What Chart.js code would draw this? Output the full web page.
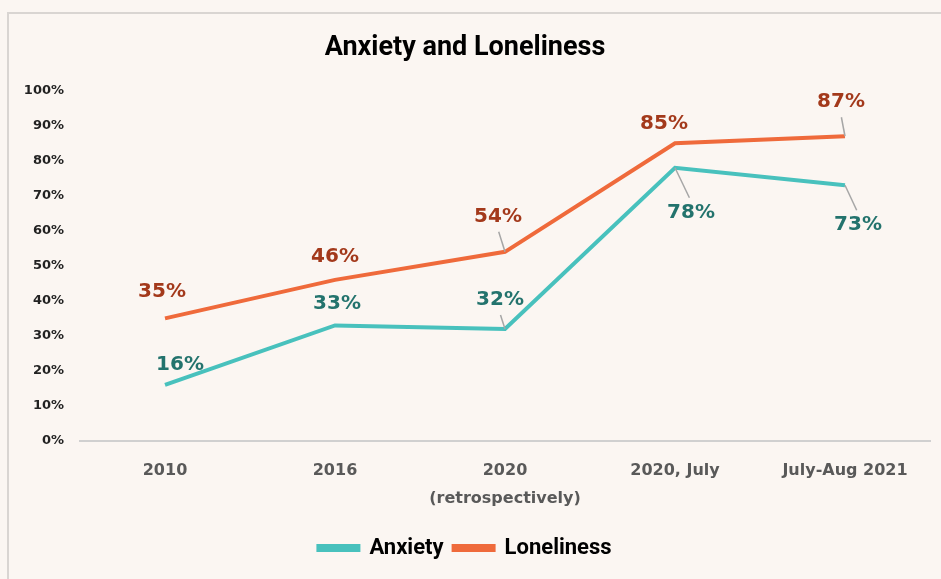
<!DOCTYPE html>
<html>
<head>
<meta charset="utf-8">
<script src="https://cdn.jsdelivr.net/npm/chart.js@4.4.1/dist/chart.umd.min.js"></script>
<style>
  html, body { margin: 0; padding: 0; background: #FBF6F2; overflow: hidden; }
  #frame {
    position: absolute; left: 7px; top: 12px; width: 960px; height: 600px;
    border-left: 2px solid #D9D5D2; border-top: 2px solid #D9D5D2;
  }
  #wrap { position: absolute; left: 0; top: 0; width: 941px; height: 579px; }
</style>
</head>
<body>
<div id="frame"></div>
<div id="wrap"><canvas id="chart" width="941" height="579"></canvas></div>
<script>
const categories = ['2010', '2016', ['2020', '(retrospectively)'], '2020, July', 'July-Aug 2021'];
const anxiety = [16, 33, 32, 78, 73];
const loneliness = [35, 46, 54, 85, 87];
const yTicks = [0, 10, 20, 30, 40, 50, 60, 70, 80, 90, 100];

const narrow = "'Liberation Sans Narrow', 'Roboto', sans-serif";
const dejavu = "'DejaVu Sans', sans-serif";

// label placement relative to the point, plus optional leader line
const labelStyle = {
  0: { color: '#23736D', offsets: [[15, -20], [2, -22], [-5, -29, true], [16, 45, true], [13, 40, true]] },
  1: { color: '#A3391B', offsets: [[-3, -27], [0, -23], [-7, -35, true], [-11, -19], [-4, -34, true]] }
};

const pointLabels = {
  id: 'pointLabels',
  afterDatasetsDraw(chart) {
    const ctx = chart.ctx;
    chart.data.datasets.forEach((ds, i) => {
      const meta = chart.getDatasetMeta(i);
      const st = labelStyle[i];
      meta.data.forEach((pt, j) => {
        const [dx, dy, leader] = st.offsets[j];
        const lx = pt.x + dx, ly = pt.y + dy;
        if (leader) {
          const sy = dy < 0 ? ly + 15 : ly - 15;
          const sx = lx + (pt.x - lx) * 0.1;
          ctx.save();
          ctx.strokeStyle = '#A6A6A6';
          ctx.lineWidth = 1.5;
          ctx.beginPath();
          ctx.moveTo(sx, sy);
          ctx.lineTo(pt.x, pt.y);
          ctx.stroke();
          ctx.restore();
        }
        ctx.save();
        ctx.font = 'bold 20px ' + dejavu;
        ctx.fillStyle = st.color;
        ctx.textAlign = 'center';
        ctx.textBaseline = 'middle';
        ctx.fillText(ds.data[j] + '%', lx, ly);
        ctx.restore();
      });
    });
  }
};

new Chart(document.getElementById('chart'), {
  type: 'line',
  data: {
    labels: categories,
    datasets: [
      {
        label: 'Anxiety',
        data: anxiety,
        borderColor: '#48C1BD',
        backgroundColor: '#48C1BD',
        borderWidth: 4,
        pointRadius: 0,
        tension: 0
      },
      {
        label: 'Loneliness',
        data: loneliness,
        borderColor: '#EF6A3B',
        backgroundColor: '#EF6A3B',
        borderWidth: 4,
        pointRadius: 0,
        tension: 0
      }
    ]
  },
  options: {
    responsive: false,
    animation: false,
    layout: { padding: { left: 0, right: 11, top: 0, bottom: 10 } },
    plugins: {
      title: {
        display: true,
        text: 'Anxiety and Loneliness',
        color: '#000',
        font: { family: narrow, size: 27, weight: 'bold', lineHeight: 1.1 },
        padding: { top: 33, bottom: 28 }
      },
      legend: {
        position: 'bottom',
        labels: {
          color: '#000',
          font: { family: narrow, size: 22, weight: 'bold' },
          boxWidth: 40,
          boxHeight: 4,
          padding: 10
        }
      },
      tooltip: { enabled: false }
    },
    scales: {
      x: {
        offset: true,
        grid: { display: false, drawTicks: false },
        border: { display: true, color: '#D0D0D0', width: 2 },
        ticks: {
          color: '#595959',
          font: { family: dejavu, size: 16, weight: 'bold', lineHeight: 1.75 },
          padding: 16,
          maxRotation: 0
        },
        afterFit(scale) { scale.height = 86; }
      },
      y: {
        min: 0,
        max: 100,
        grid: { display: false, drawTicks: false },
        border: { display: false },
        afterBuildTicks(scale) { scale.ticks = yTicks.map(v => ({ value: v })); },
        ticks: {
          color: '#222',
          font: { family: dejavu, size: 13, weight: 'bold' },
          padding: 16,
          callback: v => v + '%'
        },
        afterFit(scale) { scale.width = 80; }
      }
    }
  },
  plugins: [pointLabels]
});
</script>
</body>
</html>
